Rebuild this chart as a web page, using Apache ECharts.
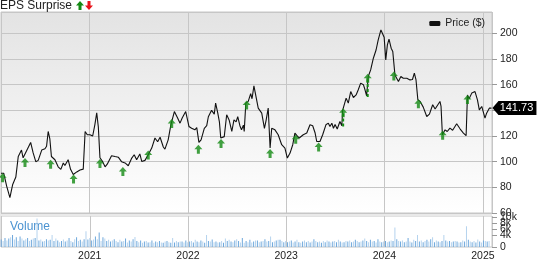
<!DOCTYPE html>
<html><head><meta charset="utf-8">
<script src="https://cdn.jsdelivr.net/npm/echarts@6/dist/echarts.min.js"></script>
<style>html,body{margin:0;padding:0;background:#fff}#c{width:537px;height:262px}</style>
</head><body><div id="c"></div>
<script>
const priceDates = ['2020-02-08','2020-02-10','2020-02-18','2020-02-23','2020-02-29','2020-03-12','2020-03-22','2020-04-03','2020-04-12','2020-04-24','2020-04-30','2020-05-07','2020-05-13','2020-05-28','2020-06-06','2020-06-16','2020-06-25','2020-07-08','2020-07-20','2020-07-26','2020-08-01','2020-08-07','2020-08-13','2020-08-26','2020-09-07','2020-09-17','2020-09-26','2020-10-02','2020-10-14','2020-10-23','2020-11-02','2020-11-15','2020-11-27','2020-12-09','2020-12-16','2020-12-24','2021-01-03','2021-01-13','2021-01-21','2021-01-28','2021-02-03','2021-02-09','2021-02-19','2021-02-28','2021-03-08','2021-03-24','2021-04-06','2021-04-18','2021-04-30','2021-05-13','2021-05-25','2021-06-07','2021-06-16','2021-06-25','2021-07-07','2021-07-14','2021-07-26','2021-08-07','2021-08-20','2021-09-01','2021-09-11','2021-09-20','2021-10-02','2021-10-08','2021-10-20','2021-10-30','2021-11-12','2021-11-24','2021-12-03','2021-12-11','2021-12-24','2022-01-05','2022-01-15','2022-01-27','2022-02-03','2022-02-11','2022-02-19','2022-03-03','2022-03-12','2022-03-18','2022-03-30','2022-04-09','2022-04-14','2022-04-22','2022-04-28','2022-05-03','2022-05-09','2022-05-16','2022-05-25','2022-06-03','2022-06-13','2022-06-21','2022-06-29','2022-07-05','2022-07-13','2022-07-19','2022-07-26','2022-07-29','2022-08-04','2022-08-13','2022-08-22','2022-08-27','2022-09-03','2022-09-19','2022-10-02','2022-10-12','2022-10-18','2022-10-26','2022-11-02','2022-11-08','2022-11-20','2022-12-02','2022-12-15','2022-12-27','2023-01-05','2023-01-15','2023-01-25','2023-02-02','2023-02-09','2023-02-18','2023-03-05','2023-03-18','2023-03-30','2023-04-09','2023-04-18','2023-04-24','2023-05-06','2023-05-16','2023-05-28','2023-06-06','2023-06-12','2023-06-19','2023-06-25','2023-07-01','2023-07-09','2023-07-19','2023-07-26','2023-07-29','2023-08-11','2023-08-19','2023-08-28','2023-09-07','2023-09-17','2023-09-25','2023-10-04','2023-10-14','2023-10-20','2023-10-26','2023-11-01','2023-11-10','2023-11-20','2023-11-30','2023-12-08','2023-12-18','2023-12-25','2023-12-30','2024-01-05','2024-01-11','2024-01-17','2024-01-25','2024-01-31','2024-02-08','2024-02-21','2024-03-01','2024-03-10','2024-03-23','2024-04-04','2024-04-13','2024-04-20','2024-04-26','2024-05-03','2024-05-11','2024-05-23','2024-06-05','2024-06-15','2024-06-27','2024-07-06','2024-07-12','2024-07-24','2024-07-28','2024-08-02','2024-08-12','2024-08-20','2024-08-30','2024-09-09','2024-09-24','2024-10-07','2024-10-19','2024-10-29','2024-11-03','2024-11-09','2024-11-19','2024-12-01','2024-12-10','2024-12-17','2024-12-26','2025-01-07','2025-01-13','2025-01-23','2025-01-27','2025-01-31'];
const priceValues = [91,92,91,90,81,72,82,88,104,109,103,106,107,115,107,100,101,109,110,112,123.5,118,104,101.5,96,94,99,97,101.5,94,90,92,93.5,94.2,123.5,121,121,120,128.7,138,127,103,100,96,98,104.6,104,103.5,100,99,96.8,102.8,105.4,101.5,106,100.2,101,105.4,110.6,118.4,115.5,119,111.4,109.8,117,128.7,139,134,130,134,139,127.4,126,124.8,126.5,115,117,126,128,135,140,137,145.6,137.8,131,118.4,118.8,119.5,136.5,132.5,123.5,132.5,131,135,128,124.8,128.5,123.5,145.6,147,153,149,159,141.7,137.8,126,132,141.7,110.6,126,124.8,121,113.2,110.6,102.8,106.7,113.2,122.3,120.5,118.4,121,122.3,128.7,128,122.3,115.7,115.7,121,128.7,130,127.4,130,126,129,125.4,131.3,128,140,149.5,145.6,154.6,150,152,156,161.2,160,156,151.3,166.3,171.5,180.6,187,194.9,202.6,204,197,179.3,191,195.4,188.4,185.8,167.6,162.4,166.3,165,165,163.7,164,169,164,148.2,147,142.5,135.2,137,144.3,141,143,146.9,143,121,124.8,123.5,126.1,124.5,129.5,125.4,122.3,120.2,152,149,153.4,154.6,148.2,140.4,143,133.9,137.8,141.7,140.5,141.73];

const epsDates = ['2020-02-14','2020-05-07','2020-08-10','2020-11-03','2021-02-09','2021-05-05','2021-08-07','2021-11-02','2022-02-09','2022-05-04','2022-08-07','2022-11-02','2023-02-05','2023-05-01','2023-07-31','2023-10-30','2024-02-04','2024-05-05','2024-08-03','2024-11-03'];
const epsValues = [91,102.8,101.5,90,102,95.8,108.7,133.2,113.2,117.6,147.6,109.8,121,115,141.7,168.4,170.2,148.7,124,152];

const stemDates = ['2023-07-31','2023-10-30'];
const stemLow = [127.4,150.3];
const stemHigh = [138,164];

const volStart = '2020-02-07';
const vol2020 = [2.5,2.0,3.0,2.2,2.8,3.2,4.0,2.5,3.2,2.0,3.5,2.8,2.2,2.6,3.0,2.0,2.4,2.8,3.0,9.5,2.2,2.5,1.8,2.0,2.6,2.2,2.4,4.0,2.0,2.8,2.2,1.6,2.0,2.5,1.8,2.2,3.0,2.0,1.6,2.6,3.2,2.0,2.4,1.8,2.6,5.2,2.5];
const vol2021 = [3.0,2.2,2.5,3.5,2.6,4.8,2.0,3.2,2.8,2.0,2.4,1.8,2.2,2.6,2.0,1.6,2.4,1.8,2.0,2.8,1.5,2.2,1.8,2.6,3.3,2.0,1.6,2.2,1.4,1.8,2.0,1.5,1.6,2.2,1.4,1.8,1.6,2.0,1.5,1.4,1.8,2.0,1.6,1.4,3.0,1.5,2.0,1.6,1.8,1.8,1.5,2.2];
const vol2022 = [1.6,1.8,2.0,1.5,2.4,1.8,1.6,2.2,1.8,1.4,4.0,2.0,1.8,2.5,1.6,1.8,1.5,1.6,2.0,1.4,2.8,2.0,2.4,1.8,1.6,2.2,2.6,2.0,1.5,3.0,1.4,2.0,1.6,2.4,1.5,1.8,2.2,2.2,1.6,1.8,2.0,2.6,1.8,2.0,3.5,1.6,1.8,2.2,2.4,2.4,2.0,1.6];
const vol2023 = [2.0,1.6,1.8,2.2,1.5,1.8,2.4,1.6,1.4,1.8,2.2,1.6,2.0,1.5,1.8,2.6,2.0,1.6,1.8,1.4,2.0,1.6,2.2,1.8,1.5,1.8,2.0,1.6,2.4,1.8,1.5,1.6,2.0,1.8,2.2,1.6,1.8,2.4,2.0,1.6,1.8,2.2,2.8,2.0,1.6,2.4,1.8,2.0,1.5,2.6,1.8,1.6];
const vol2024 = [1.8,2.0,1.6,1.8,2.2,2.0,6.5,2.6,2.0,1.8,2.2,1.6,1.8,3.0,1.8,1.5,2.4,2.0,4.0,1.8,2.2,1.6,2.0,2.4,1.8,2.6,3.2,1.6,2.2,1.8,1.6,2.0,4.0,2.2,1.8,2.0,1.6,1.8,2.0,1.8,1.5,1.6,2.2,1.8,6.9,2.4,1.8,1.6,2.0,1.5,2.5,1.8];
const vol2025 = [1.5,2.2,2.0,1.8,2.0];

const lastPrice = 141.73;
const axisMin = '2020-02-08';
const axisMax = '2025-02-02';

const volValues = [].concat(vol2020, vol2021, vol2022, vol2023, vol2024, vol2025);
const t0 = Date.parse(volStart + 'T00:00:00Z');
const volData = volValues.map((v, i) => [t0 + i * 7 * 86400000, v]);
const priceData = priceDates.map((d, i) => [d, priceValues[i]]);
const epsData = epsDates.map((d, i) => [d, epsValues[i]]);

const ARROW = 'path://M4,0 L8,4.5 L5.5,4.5 L5.5,9 L2.5,9 L2.5,4.5 L0,4.5 Z';
const UP_PTS = [[4,0],[8,4.5],[5.5,4.5],[5.5,9],[2.5,9],[2.5,4.5],[0,4.5]];
const DOWN_PTS = [[4,9],[8,4.5],[5.5,4.5],[5.5,0],[2.5,0],[2.5,4.5],[0,4.5]];
const GREEN = '#138a13';
const FONT = 'Arial, "Liberation Sans", sans-serif';
const YEAR = 365 * 86400000;

const chart = echarts.init(document.getElementById('c'), null, {renderer: 'canvas'});

const stemSeries = stemDates.map((d, i) => ({
  type: 'line', xAxisIndex: 0, yAxisIndex: 0, symbol: 'none', silent: true, z: 4,
  lineStyle: {color: GREEN, width: 2, type: [3, 2]},
  data: [[d, stemLow[i]], [d, stemHigh[i]]]
}));

chart.setOption({
  animation: false,
  textStyle: {fontFamily: FONT},
  title: {text: 'EPS Surprise', left: 0, top: 0, padding: 0, textStyle: {fontSize: 12, fontWeight: 'normal', color: '#222', fontFamily: FONT}},
  legend: {
    data: [{name: 'Price ($)', icon: 'roundRect'}], right: 52, top: 18, itemWidth: 11, itemHeight: 5, itemGap: 4, padding: 0,
    textStyle: {fontSize: 10.5, color: '#222', fontFamily: FONT}
  },
  graphic: [
    {type: 'polygon', x: 76, y: 1, shape: {points: UP_PTS}, style: {fill: GREEN}},
    {type: 'polygon', x: 85, y: 1, shape: {points: DOWN_PTS}, style: {fill: '#e8141a'}},
    {type: 'rect', x: 0, y: 213, shape: {width: 492, height: 3}, style: {fill: '#e9e9e9'}},
    {type: 'text', x: 10, y: 221, style: {text: 'Volume', fill: '#4b93d1', font: '12px ' + FONT}}
  ],
  grid: [
    {left: 1, right: 45, top: 12, bottom: 49, show: true, borderColor: '#c6c6c6', borderWidth: 1,
     backgroundColor: {type: 'linear', x: 0, y: 0, x2: 0, y2: 1, colorStops: [{offset: 0, color: '#e3e3e3'}, {offset: 1, color: '#ffffff'}]}},
    {left: 1, right: 45, top: 216, bottom: 10, show: true, borderColor: '#c6c6c6', borderWidth: 1, backgroundColor: '#fff'}
  ],
  xAxis: [
    {type: 'time', gridIndex: 0, min: axisMin, max: axisMax, minInterval: YEAR, maxInterval: YEAR + 86400000,
     axisLabel: {show: false}, axisTick: {show: false}, axisLine: {show: false},
     splitLine: {show: true, lineStyle: {color: '#c6c6c6', width: 1}}},
    {type: 'time', gridIndex: 1, min: axisMin, max: axisMax, minInterval: YEAR, maxInterval: YEAR + 86400000,
     axisLabel: {show: true, formatter: '{yyyy}', fontSize: 10.5, color: '#222', margin: 4, showMinLabel: false, showMaxLabel: false, fontFamily: FONT},
     axisTick: {show: false}, axisLine: {show: false},
     splitLine: {show: true, lineStyle: {color: '#c6c6c6', width: 1}}}
  ],
  yAxis: [
    {type: 'value', gridIndex: 0, position: 'right', min: 60, max: 216.6, interval: 20,
     axisLabel: {fontSize: 10.5, color: '#222', margin: 8, showMaxLabel: false, hideOverlap: false, fontFamily: FONT,
                 formatter: v => (v % 20 === 0 ? String(v) : '')},
     axisTick: {show: true, length: 5, lineStyle: {color: '#999'}}, axisLine: {show: false},
     splitLine: {show: true, lineStyle: {color: '#c6c6c6', width: 1}}},
    {type: 'value', gridIndex: 1, position: 'right', min: 0, max: 10.3, interval: 2,
     axisLabel: {fontSize: 10.5, color: '#222', margin: 8, showMaxLabel: false, showMinLabel: true, hideOverlap: false, fontFamily: FONT,
                 formatter: v => (v === 0 ? '0' : (v % 2 === 0 ? v + 'k' : ''))},
     axisTick: {show: true, length: 5, lineStyle: {color: '#999'}}, axisLine: {show: false},
     splitLine: {show: false}}
  ],
  series: [
    {name: 'Price ($)', type: 'line', xAxisIndex: 0, yAxisIndex: 0, data: priceData, symbol: 'none', z: 3,
     lineStyle: {color: '#111', width: 1.1}, itemStyle: {color: '#111'},
     markPoint: {
       symbol: 'path://M0,7 L6,0 L44,0 L44,14 L6,14 Z', symbolSize: [44, 14], symbolOffset: [23, 0],
       itemStyle: {color: '#000'},
       label: {show: true, color: '#fff', fontSize: 11, offset: [2, 0], fontFamily: FONT, formatter: () => lastPrice.toFixed(2)},
       data: [{coord: [priceDates[priceDates.length - 1], lastPrice], value: lastPrice}]
     }},
    ...stemSeries,
    {name: 'EPS', type: 'scatter', xAxisIndex: 0, yAxisIndex: 0, data: epsData, symbol: ARROW,
     symbolSize: [8, 9], symbolOffset: [0, 4.5], itemStyle: {color: GREEN}, z: 5},
    {name: 'Volume', type: 'bar', xAxisIndex: 1, yAxisIndex: 1, data: volData, barWidth: 1,
     itemStyle: {color: p => (p.dataIndex % 2 === 0 ? '#6ea8dc' : '#b5d3ee')}}
  ]
});
</script>
</body></html>
